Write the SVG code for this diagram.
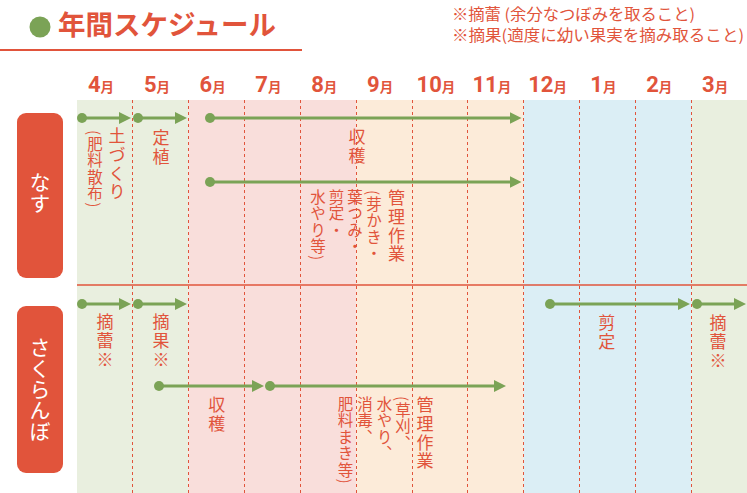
<svg xmlns="http://www.w3.org/2000/svg" width="747" height="493" viewBox="0 0 747 493">
<defs>
<style>
.ttl{font-family:"Noto Sans CJK JP",sans-serif;font-weight:700;font-size:27.5px;fill:#e1543b}
.note{font-family:"Noto Sans CJK JP",sans-serif;font-size:15.5px;fill:#e1543b}
.num{font-family:Roboto,"Liberation Sans",sans-serif;font-weight:700;font-size:22px}
.mon{font-family:"Noto Sans CJK JP",sans-serif;font-weight:700;font-size:13.5px}
.mth{fill:#e1543b;text-anchor:middle}
.lbl{font-family:"Noto Sans CJK JP",sans-serif;font-size:17px;letter-spacing:1.8px;fill:#e1543b;writing-mode:vertical-rl}
.sub{font-size:15.5px;letter-spacing:1px}
.box{fill:#e1543b}
.boxt{font-family:"Noto Sans CJK JP",sans-serif;font-size:21px;fill:#ffffff;writing-mode:vertical-rl}
.grid{stroke:#e1543b;stroke-width:1;stroke-dasharray:3 3;fill:none}
.arr{stroke:#7ba356;stroke-width:3;fill:none;marker-start:url(#dot);marker-end:url(#head)}
</style>
<marker id="head" markerUnits="userSpaceOnUse" markerWidth="12" markerHeight="12" refX="1" refY="6" orient="auto" viewBox="0 0 12 12">
<path d="M0,0 L12,6 L0,12 Z" fill="#7ba356"/>
</marker>
<marker id="dot" markerUnits="userSpaceOnUse" markerWidth="10" markerHeight="10" refX="5" refY="5" viewBox="0 0 10 10">
<circle cx="5" cy="5" r="5" fill="#7ba356"/>
</marker>
</defs>
<rect width="747" height="493" fill="#ffffff"/>

<g id="title">
<circle cx="40" cy="27" r="10.5" fill="#7ba356"/>
<text class="ttl" x="58" y="35">年間スケジュール</text>
<line x1="0" y1="50" x2="302" y2="50" stroke="#e1543b" stroke-width="2"/>
</g>

<g id="notes">
<text class="note" x="452" y="20" textLength="243" lengthAdjust="spacingAndGlyphs">※摘蕾 (余分なつぼみを取ること)</text>
<text class="note" x="452" y="41" textLength="292" lengthAdjust="spacingAndGlyphs">※摘果(適度に幼い果実を摘み取ること)</text>
</g>

<g id="backgrounds">
<rect x="77" y="100" width="111.5" height="393" fill="#e9efdf"/>
<rect x="188.5" y="100" width="168" height="393" fill="#f9dedb"/>
<rect x="356.5" y="100" width="167" height="393" fill="#fcebd9"/>
<rect x="523.5" y="100" width="168" height="393" fill="#dbeef5"/>
<rect x="691.5" y="100" width="55.5" height="393" fill="#e9efdf"/>
<g class="grid">
<line x1="132.5" y1="100" x2="132.5" y2="493"/>
<line x1="188.5" y1="100" x2="188.5" y2="493"/>
<line x1="244.5" y1="100" x2="244.5" y2="493"/>
<line x1="300.5" y1="100" x2="300.5" y2="493"/>
<line x1="356.5" y1="100" x2="356.5" y2="493"/>
<line x1="412.5" y1="100" x2="412.5" y2="493"/>
<line x1="467.5" y1="100" x2="467.5" y2="493"/>
<line x1="523.5" y1="100" x2="523.5" y2="493"/>
<line x1="579.5" y1="100" x2="579.5" y2="493"/>
<line x1="635.5" y1="100" x2="635.5" y2="493"/>
<line x1="691.5" y1="100" x2="691.5" y2="493"/>
</g>
<line x1="77" y1="285" x2="747" y2="285" stroke="#e1543b" stroke-width="1.5"/>
</g>

<g id="months">
<text class="mth" x="101" y="92"><tspan class="num">4</tspan><tspan class="mon">月</tspan></text>
<text class="mth" x="157" y="92"><tspan class="num">5</tspan><tspan class="mon">月</tspan></text>
<text class="mth" x="212.6" y="92"><tspan class="num">6</tspan><tspan class="mon">月</tspan></text>
<text class="mth" x="268.4" y="92"><tspan class="num">7</tspan><tspan class="mon">月</tspan></text>
<text class="mth" x="324.3" y="92"><tspan class="num">8</tspan><tspan class="mon">月</tspan></text>
<text class="mth" x="380.1" y="92"><tspan class="num">9</tspan><tspan class="mon">月</tspan></text>
<text class="mth" x="435.9" y="92"><tspan class="num">10</tspan><tspan class="mon">月</tspan></text>
<text class="mth" x="491.8" y="92"><tspan class="num">11</tspan><tspan class="mon">月</tspan></text>
<text class="mth" x="547.6" y="92"><tspan class="num">12</tspan><tspan class="mon">月</tspan></text>
<text class="mth" x="603.4" y="92"><tspan class="num">1</tspan><tspan class="mon">月</tspan></text>
<text class="mth" x="659.3" y="92"><tspan class="num">2</tspan><tspan class="mon">月</tspan></text>
<text class="mth" x="715.1" y="92"><tspan class="num">3</tspan><tspan class="mon">月</tspan></text>
</g>

<g id="row-nasu">
<rect class="box" x="17" y="113" width="46" height="165" rx="9"/>
<text class="boxt" x="40" y="172">なす</text>
</g>

<g id="row-sakuranbo">
<rect class="box" x="17" y="306" width="46" height="167" rx="9"/>
<text class="boxt" x="40" y="337">さくらんぼ</text>
</g>

<g id="connectors">
<line class="arr" x1="82" y1="118" x2="120" y2="118"/>
<line class="arr" x1="138" y1="118" x2="176" y2="118"/>
<line class="arr" x1="210" y1="118" x2="510.5" y2="118"/>
<line class="arr" x1="210" y1="182" x2="510.5" y2="182"/>
<line class="arr" x1="82" y1="304" x2="120" y2="304"/>
<line class="arr" x1="138" y1="304" x2="176" y2="304"/>
<line class="arr" x1="550" y1="304" x2="679" y2="304"/>
<line class="arr" x1="697" y1="304" x2="735" y2="304"/>
<line class="arr" x1="159" y1="386" x2="253" y2="386"/>
<line class="arr" x1="270" y1="386" x2="495" y2="386"/>
</g>

<g id="nasu-tsuchizukuri">
<text class="lbl" x="117" y="127">土づくり</text>
<text class="lbl sub" x="95" y="130">(肥料散布)</text>
</g>
<g id="nasu-teishoku">
<text class="lbl" x="161" y="129">定植</text>
</g>
<g id="nasu-shukaku">
<text class="lbl" x="357" y="128">収穫</text>
</g>
<g id="nasu-kanri">
<text class="lbl" x="396.5" y="189">管理作業</text>
<text class="lbl sub" x="374" y="190">(芽かき・</text>
<text class="lbl sub" x="355" y="189">葉つみ・</text>
<text class="lbl sub" x="336.5" y="189">剪定・</text>
<text class="lbl sub" x="318" y="189">水やり等)</text>
</g>

<g id="sakuranbo-tekirai">
<text class="lbl" x="105" y="313">摘蕾※</text>
</g>
<g id="sakuranbo-tekika">
<text class="lbl" x="161" y="313">摘果※</text>
</g>
<g id="sakuranbo-shukaku">
<text class="lbl" x="216.7" y="396">収穫</text>
</g>
<g id="sakuranbo-kanri">
<text class="lbl" x="425" y="396">管理作業</text>
<text class="lbl sub" x="403" y="396">(草刈、</text>
<text class="lbl sub" x="384.5" y="396">水やり、</text>
<text class="lbl sub" x="365" y="396">消毒、</text>
<text class="lbl sub" x="345.5" y="396">肥料まき等)</text>
</g>
<g id="sakuranbo-sentei">
<text class="lbl" x="606.7" y="314">剪定</text>
</g>
<g id="sakuranbo-tekirai2">
<text class="lbl" x="718" y="314">摘蕾※</text>
</g>
</svg>
